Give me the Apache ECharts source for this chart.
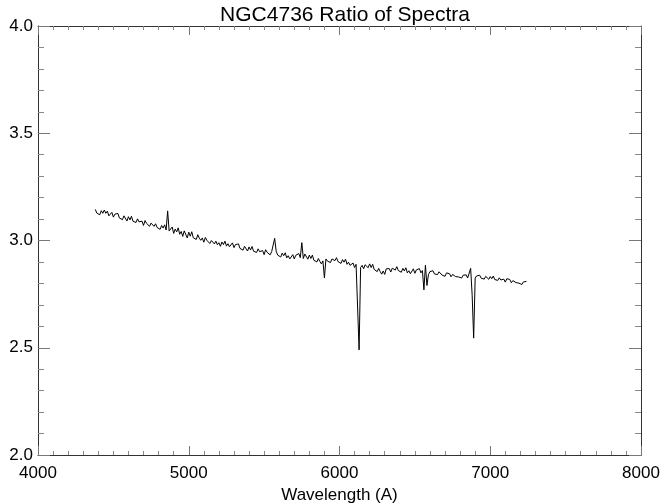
<!DOCTYPE html>
<html><head><meta charset="utf-8">
<script src="https://cdn.jsdelivr.net/npm/echarts@6/dist/echarts.min.js"></script>
<style>html,body{margin:0;padding:0;background:#fff}#c{width:664px;height:503px}</style>
</head><body><div id="c"></div>
<script>
const titleText = "NGC4736 Ratio of Spectra";
const xAxisName = "Wavelength (A)";
const xTicks = [4000, 5000, 6000, 7000, 8000];
const yTicks = [2.0, 2.5, 3.0, 3.5, 4.0];
const wavelengths = [
4380,4390,4400,4410,4420,4430,4440,4450,4460,4470,
4480,4490,4500,4510,4520,4530,4540,4550,4560,4570,
4580,4590,4600,4610,4620,4630,4640,4650,4660,4670,
4680,4690,4700,4710,4720,4730,4740,4750,4760,4770,
4780,4790,4800,4810,4820,4830,4840,4850,4860,4870,
4880,4890,4900,4910,4920,4930,4940,4950,4960,4970,
4980,4990,5000,5010,5020,5030,5040,5050,5060,5070,
5080,5090,5100,5110,5120,5130,5140,5150,5160,5170,
5180,5190,5200,5210,5220,5230,5240,5250,5260,5270,
5280,5290,5300,5310,5320,5330,5340,5350,5360,5370,
5380,5390,5400,5410,5420,5430,5440,5450,5460,5470,
5480,5490,5500,5510,5520,5530,5540,5550,5560,5570,
5580,5590,5600,5610,5620,5630,5640,5650,5660,5670,
5680,5690,5700,5710,5720,5730,5740,5750,5760,5770,
5780,5790,5800,5810,5820,5830,5840,5850,5860,5870,
5880,5890,5900,5910,5920,5930,5940,5950,5960,5970,
5980,5990,6000,6010,6020,6030,6040,6050,6060,6070,
6080,6090,6100,6110,6120,6130,6140,6150,6160,6170,
6180,6190,6200,6210,6220,6230,6240,6250,6260,6270,
6280,6290,6300,6310,6320,6330,6340,6350,6360,6370,
6380,6390,6400,6410,6420,6430,6440,6450,6460,6470,
6480,6490,6500,6510,6520,6530,6540,6550,6560,6570,
6580,6590,6600,6610,6620,6630,6640,6650,6660,6670,
6680,6690,6700,6710,6720,6730,6740,6750,6760,6770,
6780,6790,6800,6810,6820,6830,6840,6850,6860,6870,
6880,6890,6900,6910,6920,6930,6940,6950,6960,6970,
6980,6990,7000,7010,7020,7030,7040,7050,7060,7070,
7080,7090,7100,7110,7120,7130,7140,7150,7160,7170,
7180,7190,7200,7210,7220,7230,7240
];
const ratio = [
3.145,3.128,3.137,3.120,3.139,3.127,3.142,3.127,3.137,3.115,
3.117,3.131,3.109,3.123,3.114,3.126,3.105,3.114,3.097,3.115,
3.111,3.091,3.111,3.096,3.113,3.090,3.097,3.084,3.101,3.087,
3.079,3.090,3.070,3.093,3.080,3.086,3.066,3.081,3.086,3.066,
3.078,3.061,3.069,3.052,3.070,3.058,3.073,3.049,3.138,3.044,
3.043,3.063,3.033,3.053,3.040,3.059,3.029,3.042,3.019,3.045,
3.038,3.012,3.039,3.020,3.041,3.013,3.021,3.005,3.027,3.011,
3.001,3.012,2.992,3.014,3.001,3.007,2.986,3.000,3.005,2.984,
2.997,2.980,2.990,2.973,2.993,2.981,2.997,2.974,2.985,2.971,
2.975,2.989,2.967,2.981,2.972,2.984,2.963,2.972,2.955,2.973,
2.970,2.951,2.970,2.956,2.972,2.950,2.957,2.944,2.961,2.948,
2.941,2.953,2.934,2.957,2.945,2.952,2.933,2.948,2.954,3.010,
2.950,2.932,2.941,2.923,2.941,2.929,2.943,2.919,2.929,2.914,
2.917,2.934,2.914,2.931,2.924,2.939,2.920,2.990,2.916,2.937,
2.934,2.913,2.932,2.916,2.932,2.908,2.914,2.900,2.916,2.902,
2.891,2.905,2.825,2.914,2.904,2.913,2.897,2.914,2.922,2.906,
2.920,2.902,2.911,2.893,2.911,2.899,2.913,2.889,2.899,2.884,
2.880,2.895,2.874,2.889,2.881,2.490,2.874,2.884,2.868,2.887,
2.894,2.873,2.891,2.874,2.889,2.865,2.869,2.855,2.870,2.855,
2.843,2.858,2.842,2.868,2.859,2.869,2.853,2.871,2.880,2.862,
2.878,2.860,2.869,2.852,2.870,2.858,2.873,2.849,2.859,2.845,
2.852,2.868,2.847,2.863,2.855,2.869,2.849,2.860,2.770,2.885,
2.790,2.841,2.855,2.846,2.859,2.844,2.849,2.841,2.854,2.846,
2.839,2.847,2.833,2.849,2.840,2.845,2.831,2.842,2.845,2.832,
2.841,2.830,2.837,2.825,2.838,2.830,2.840,2.825,2.831,2.870,
2.745,2.545,2.825,2.835,2.830,2.838,2.824,2.831,2.820,2.833,
2.832,2.819,2.832,2.822,2.834,2.818,2.823,2.814,2.826,2.816,
2.812,2.820,2.806,2.822,2.813,2.818,2.803,2.813,2.817,2.804,
2.813,2.801,2.808,2.795,2.807,2.798,2.809
];

const FONT = "'Liberation Sans', Arial, Helvetica, sans-serif";
const chart = echarts.init(document.getElementById('c'), null, {renderer: 'canvas'});
const pts = wavelengths.map((w, i) => [w, ratio[i]]);

function xAx(pos, labels) {
  return {
    type: 'value', position: pos, min: xTicks[0], max: xTicks[xTicks.length - 1],
    interval: xTicks[1] - xTicks[0],
    name: labels ? xAxisName : '', nameLocation: 'middle', nameGap: 26,
    nameTextStyle: {fontFamily: FONT, fontSize: 17, color: '#000'},
    axisLine: {show: true, onZero: false, lineStyle: {color: '#333', width: 1}},
    axisTick: {show: true, inside: true, length: 9, lineStyle: {color: '#777'}},
    minorTick: {show: true, splitNumber: 10, length: 4, lineStyle: {color: '#888'}},
    axisLabel: {show: labels, margin: 10, fontFamily: FONT, fontSize: 17, color: '#000',
      formatter: v => String(v), showMinLabel: true, showMaxLabel: true},
    splitLine: {show: false}, minorSplitLine: {show: false}
  };
}
function yAx(pos, labels) {
  return {
    type: 'value', position: pos, min: yTicks[0], max: yTicks[yTicks.length - 1],
    interval: yTicks[1] - yTicks[0],
    axisLine: {show: true, onZero: false, lineStyle: {color: '#333', width: 1}},
    axisTick: {show: true, inside: true, length: 12, lineStyle: {color: '#777'}},
    minorTick: {show: true, splitNumber: 5, length: 6, lineStyle: {color: '#888'}},
    axisLabel: {show: labels, margin: 5, fontFamily: FONT, fontSize: 17, color: '#000',
      formatter: v => v.toFixed(1), showMinLabel: true, showMaxLabel: true},
    splitLine: {show: false}, minorSplitLine: {show: false}
  };
}

chart.setOption({
  animation: false,
  backgroundColor: '#fff',
  title: {
    text: titleText, left: 340, top: 0, textAlign: 'center',
    textStyle: {fontFamily: FONT, fontSize: 21, fontWeight: 'normal', color: '#000'}
  },
  grid: {left: 38, right: 23, top: 26, bottom: 48, containLabel: false, outerBoundsMode: 'none'},
  xAxis: [xAx('bottom', true), xAx('top', false)],
  yAxis: [yAx('left', true), yAx('right', false)],
  series: [{
    type: 'line', data: pts, xAxisIndex: 0, yAxisIndex: 0,
    showSymbol: false, symbol: 'none', smooth: false,
    lineStyle: {color: '#000', width: 1}
  }]
});
</script></body></html>
